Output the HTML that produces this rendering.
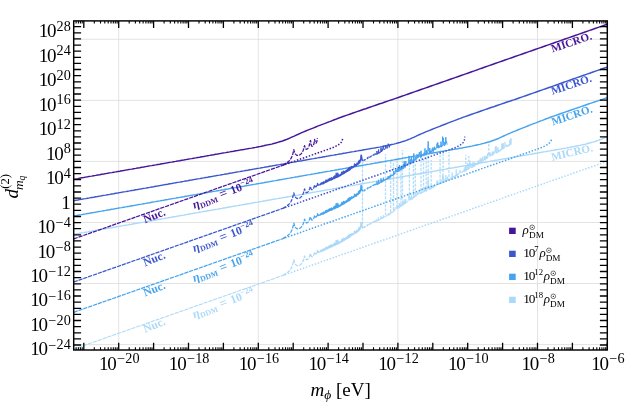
<!DOCTYPE html>
<html><head><meta charset="utf-8"><title>plot</title>
<style>html,body{margin:0;padding:0;background:#fff}body{width:625px;height:404px;position:relative;overflow:hidden;font-family:"Liberation Serif",serif}</style></head>
<body>
<svg width="625" height="404" viewBox="0 0 625 404" style="position:absolute;left:0;top:0;will-change:transform">
<rect width="625" height="404" fill="#fff"/>
<g stroke="#d9d9d9" stroke-width="0.75" fill="none">
<path d="M118.7 20.9 V350.0"/>
<path d="M258.3 20.9 V350.0"/>
<path d="M397.9 20.9 V350.0"/>
<path d="M537.5 20.9 V350.0"/>
<path d="M73.7 39.3 H607.3"/>
<path d="M73.7 100.4 H607.3"/>
<path d="M73.7 161.4 H607.3"/>
<path d="M73.7 222.5 H607.3"/>
<path d="M73.7 283.5 H607.3"/>
<path d="M73.7 344.6 H607.3"/>
</g>
<defs><clipPath id="cp"><rect x="73.7" y="20.9" width="533.6" height="329.1"/></clipPath></defs>
<g clip-path="url(#cp)" fill="none" stroke-linejoin="round">
<path d="M73.7 234.3 L75.7 234.0 L77.7 233.6 L79.7 233.3 L81.7 232.9 L83.7 232.6 L85.7 232.2 L87.7 231.9 L89.7 231.5 L91.7 231.2 L93.7 230.8 L95.7 230.5 L97.7 230.1 L99.7 229.8 L101.7 229.4 L103.7 229.1 L105.7 228.7 L107.7 228.4 L109.7 228.0 L111.7 227.7 L113.7 227.3 L115.7 227.0 L117.7 226.6 L119.7 226.3 L121.7 225.9 L123.7 225.6 L125.7 225.2 L127.7 224.9 L129.7 224.5 L131.7 224.2 L133.7 223.8 L135.7 223.5 L137.7 223.1 L139.7 222.8 L141.7 222.4 L143.7 222.1 L145.7 221.7 L147.7 221.4 L149.7 221.0 L151.7 220.7 L153.7 220.3 L155.7 220.0 L157.7 219.6 L159.7 219.3 L161.7 218.9 L163.7 218.6 L165.7 218.2 L167.7 217.9 L169.7 217.5 L171.7 217.2 L173.7 216.8 L175.7 216.5 L177.7 216.1 L179.7 215.8 L181.7 215.4 L183.7 215.1 L185.7 214.7 L187.7 214.4 L189.7 214.0 L191.7 213.6 L193.7 213.3 L195.7 212.9 L197.7 212.6 L199.7 212.2 L201.7 211.9 L203.7 211.5 L205.7 211.2 L207.7 210.8 L209.7 210.5 L211.7 210.1 L213.7 209.8 L215.7 209.4 L217.7 209.1 L219.7 208.7 L221.7 208.4 L223.7 208.0 L225.7 207.7 L227.7 207.3 L229.7 207.0 L231.7 206.6 L233.7 206.3 L235.7 205.9 L237.7 205.6 L239.7 205.2 L241.7 204.9 L243.7 204.5 L245.7 204.2 L247.7 203.8 L249.7 203.5 L251.7 203.1 L253.7 202.8 L255.7 202.4 L257.7 202.1 L259.7 201.7 L261.7 201.4 L263.7 201.0 L265.7 200.7 L267.7 200.3 L269.7 200.0 L271.7 199.6 L273.7 199.3 L275.7 198.9 L277.7 198.6 L279.7 198.2 L281.7 197.9 L283.7 197.5 L285.7 197.2 L287.7 196.8 L289.7 196.5 L291.7 196.1 L293.7 195.8 L295.7 195.4 L297.7 195.1 L299.7 194.7 L301.7 194.4 L303.7 194.0 L305.7 193.7 L307.7 193.3 L309.7 193.0 L311.7 192.6 L313.7 192.2 L315.7 191.9 L317.7 191.5 L319.7 191.2 L321.7 190.8 L323.7 190.5 L325.7 190.1 L327.7 189.8 L329.7 189.4 L331.7 189.1 L333.7 188.7 L335.7 188.4 L337.7 188.0 L339.7 187.7 L341.7 187.3 L343.7 187.0 L345.7 186.6 L347.7 186.3 L349.7 185.9 L351.7 185.6 L353.7 185.2 L355.7 184.9 L357.7 184.5 L359.7 184.2 L361.7 183.8 L363.7 183.5 L365.7 183.1 L367.7 182.8 L369.7 182.4 L371.7 182.1 L373.7 181.7 L375.7 181.4 L377.7 181.0 L379.7 180.7 L381.7 180.3 L383.7 180.0 L385.7 179.6 L387.7 179.3 L389.7 178.9 L391.7 178.6 L393.7 178.2 L395.7 177.9 L397.7 177.5 L399.7 177.2 L401.7 176.8 L403.7 176.5 L405.7 176.1 L407.7 175.8 L409.7 175.4 L411.7 175.1 L413.7 174.7 L415.7 174.4 L417.7 174.0 L419.7 173.7 L421.7 173.3 L423.7 173.0 L425.7 172.6 L427.7 172.3 L429.7 171.9 L431.7 171.6 L433.7 171.2 L435.7 170.9 L437.7 170.5 L439.7 170.1 L441.7 169.8 L443.7 169.4 L445.7 169.1 L447.7 168.7 L449.7 168.4 L451.7 168.0 L453.7 167.7 L455.7 167.3 L457.7 167.0 L459.7 166.6 L461.7 166.3 L463.7 165.9 L465.7 165.6 L467.7 165.2 L469.7 164.9 L471.7 164.5 L473.7 164.2 L475.7 163.8 L477.7 163.5 L479.7 163.1 L481.7 162.8 L483.7 162.4 L485.7 162.1 L487.7 161.7 L489.7 161.4 L491.7 161.0 L493.7 160.7 L495.7 160.3 L497.7 160.0 L499.7 159.6 L501.7 159.3 L503.7 158.9 L505.7 158.6 L507.7 158.2 L509.7 157.9 L511.7 157.5 L513.7 157.2 L515.7 156.8 L517.7 156.5 L519.7 156.1 L521.7 155.8 L523.7 155.4 L525.7 155.1 L527.7 154.7 L529.7 154.4 L531.7 154.0 L533.7 153.7 L535.7 153.3 L537.7 153.0 L539.7 152.6 L541.7 152.3 L543.7 151.9 L545.7 151.6 L547.7 151.2 L549.7 150.9 L551.7 150.5 L553.7 150.2 L555.7 149.8 L557.7 149.5 L559.7 149.1 L561.7 148.8 L563.7 148.4 L565.7 148.1 L567.7 147.7 L569.7 147.4 L571.7 147.0 L573.7 146.6 L575.7 146.2 L577.7 145.8 L579.7 145.4 L581.7 144.9 L583.7 144.5 L585.7 144.1 L587.7 143.5 L589.7 143.0 L591.7 142.4 L593.7 141.9 L595.7 141.3 L597.7 140.6 L599.7 139.8 L601.7 139.1 L603.7 138.2 L605.7 137.2 L607.7 136.3" stroke="#abd9f9" stroke-width="1.45"/>
<path d="M73.7 349.1 L285.0 274.7" stroke="#abd9f9" stroke-width="1.05" stroke-dasharray="4.2 0.9"/>
<path d="M285.0 274.7 L608.3 160.9" stroke="#abd9f9" stroke-width="1.5" stroke-dasharray="1.5 1.65"/>
<path d="M362.5 228.4 V156.0" stroke="#abd9f9" stroke-width="1.3" stroke-dasharray="2.8 1.2" opacity="0.9"/>
<path d="M385.5 215.2 V154.0" stroke="#abd9f9" stroke-width="1.3" stroke-dasharray="2.8 1.2" opacity="0.9"/>
<path d="M390.7 212.0 V160.0" stroke="#abd9f9" stroke-width="1.3" stroke-dasharray="2.8 1.2" opacity="0.9"/>
<path d="M393.5 209.9 V162.0" stroke="#abd9f9" stroke-width="1.3" stroke-dasharray="2.8 1.2" opacity="0.9"/>
<path d="M397.0 207.3 V158.0" stroke="#abd9f9" stroke-width="1.3" stroke-dasharray="2.8 1.2" opacity="0.9"/>
<path d="M401.0 204.4 V165.0" stroke="#abd9f9" stroke-width="1.3" stroke-dasharray="2.8 1.2" opacity="0.9"/>
<path d="M402.5 203.3 V150.0" stroke="#abd9f9" stroke-width="1.3" stroke-dasharray="2.8 1.2" opacity="0.9"/>
<path d="M409.4 198.5 V160.0" stroke="#abd9f9" stroke-width="1.3" stroke-dasharray="2.8 1.2" opacity="0.9"/>
<path d="M413.4 195.8 V156.0" stroke="#abd9f9" stroke-width="1.3" stroke-dasharray="2.8 1.2" opacity="0.9"/>
<path d="M415.3 194.5 V163.0" stroke="#abd9f9" stroke-width="1.3" stroke-dasharray="2.8 1.2" opacity="0.9"/>
<path d="M421.0 190.7 V152.0" stroke="#abd9f9" stroke-width="1.3" stroke-dasharray="2.8 1.2" opacity="0.9"/>
<path d="M423.5 189.5 V158.0" stroke="#abd9f9" stroke-width="1.3" stroke-dasharray="2.8 1.2" opacity="0.9"/>
<path d="M426.2 188.2 V155.0" stroke="#abd9f9" stroke-width="1.3" stroke-dasharray="2.8 1.2" opacity="0.9"/>
<path d="M428.2 187.3 V150.0" stroke="#abd9f9" stroke-width="1.3" stroke-dasharray="2.8 1.2" opacity="0.9"/>
<path d="M431.2 185.8 V160.0" stroke="#abd9f9" stroke-width="1.3" stroke-dasharray="2.8 1.2" opacity="0.9"/>
<path d="M440.1 181.5 V149.0" stroke="#abd9f9" stroke-width="1.3" stroke-dasharray="2.8 1.2" opacity="0.9"/>
<path d="M443.1 180.1 V150.0" stroke="#abd9f9" stroke-width="1.3" stroke-dasharray="2.8 1.2" opacity="0.9"/>
<path d="M449.0 177.1 V152.0" stroke="#abd9f9" stroke-width="1.3" stroke-dasharray="2.8 1.2" opacity="0.9"/>
<path d="M465.8 168.0 V155.0" stroke="#abd9f9" stroke-width="1.3" stroke-dasharray="2.8 1.2" opacity="0.9"/>
<path d="M468.8 166.3 V156.0" stroke="#abd9f9" stroke-width="1.3" stroke-dasharray="2.8 1.2" opacity="0.9"/>
<path d="M488.8 154.8 V144.0" stroke="#abd9f9" stroke-width="1.3" stroke-dasharray="2.8 1.2" opacity="0.9"/>
<path d="M283.0 275.4 L283.4 275.2 L283.8 274.9 L284.2 274.7 L284.6 274.4 L285.0 274.2 L285.4 273.9 L285.8 273.7 L286.2 273.4 L286.6 273.1 L287.0 272.9 L287.4 272.6 L287.8 272.2 L288.2 271.9 L288.6 271.6 L289.0 271.2 L289.4 270.8 L289.8 270.3 L290.2 269.8 L290.6 269.2 L291.0 268.6 L291.4 267.8 L291.8 267.0 L292.2 266.0 L292.6 264.8 L293.0 263.4 L293.4 261.8 L293.8 259.9 L294.2 261.3 L294.6 262.5 L295.0 263.4 L295.4 264.1 L295.8 264.6 L296.2 265.0 L296.6 265.3 L297.0 265.5 L297.4 265.6 L297.8 265.6 L298.2 265.6 L298.6 265.5 L299.0 265.4 L299.4 265.3 L299.8 265.1 L300.2 264.8 L300.6 264.5 L301.0 264.1 L301.4 263.7 L301.8 263.2 L302.2 262.6 L302.6 261.9 L303.0 261.1 L303.4 260.0 L303.8 258.7 L304.2 257.0 L304.6 256.0 L305.0 257.6 L305.4 258.7 L305.8 259.3 L306.2 259.6 L306.6 259.7 L307.0 259.6 L307.4 259.4 L307.8 259.1 L308.2 258.7 L308.6 258.1 L309.0 257.4 L309.4 256.5 L309.8 255.4 L310.2 254.1 L310.6 253.6 L311.0 255.6 L311.4 256.5 L311.8 256.8 L312.2 256.8 L312.6 256.6 L313.0 256.3 L313.4 255.7 L313.8 255.0 L314.2 253.9 L314.6 252.1 L315.0 252.9 L315.4 253.7 L315.8 253.9 L316.2 253.7 L316.6 253.2 L317.0 252.2 L317.4 250.5 L317.8 251.9 L318.2 252.4 L318.6 251.5 L319.0 252.6" stroke="#abd9f9" stroke-width="1.3" stroke-dasharray="3.6 1.2"/>
<path d="M319.4 251.5 L319.8 252.1 L320.2 251.2 L320.6 251.6 L321.0 250.3 L321.4 251.2 L321.8 249.9 L322.2 250.9 L322.6 249.8 L323.0 250.9 L323.4 248.9 L323.8 250.6 L324.2 249.3 L324.6 249.9 L325.0 248.8 L325.4 249.5 L325.8 247.4 L326.2 249.3 L326.6 247.3 L327.0 248.9 L327.4 247.8 L327.8 248.3 L328.2 246.4 L328.6 248.0 L329.0 246.2 L329.4 247.6 L329.8 245.5 L330.2 247.2 L330.6 245.5 L331.0 247.2 L331.4 244.8 L331.8 246.9 L332.2 245.4 L332.6 246.4 L333.0 245.0 L333.4 245.7 L333.8 243.8 L334.2 245.6 L334.6 243.1 L335.0 245.3 L335.4 243.1 L335.8 244.8 L336.2 240.3 L336.6 244.4 L337.0 242.3 L337.4 244.2 L337.8 240.2 L338.2 243.9 L338.6 242.1 L339.0 243.4 L339.4 242.2 L339.8 242.8 L340.2 241.7 L340.6 242.6 L341.0 241.1 L341.4 241.9 L341.8 239.3 L342.2 241.5 L342.6 239.4 L343.0 241.2 L343.4 238.3 L343.8 240.5 L344.2 238.7 L344.6 240.3 L345.0 238.6 L345.4 239.4 L345.8 237.9 L346.2 239.1 L346.6 237.4 L347.0 238.5 L347.4 236.7 L347.8 238.3 L348.2 235.5 L348.6 237.6 L349.0 235.1 L349.4 237.3 L349.8 234.4 L350.2 236.7 L350.6 234.6 L351.0 235.8 L351.4 233.6 L351.8 235.2 L352.2 233.9 L352.6 234.9 L353.0 233.7 L353.4 234.3 L353.8 233.1 L354.2 233.7 L354.6 231.0 L355.0 233.2 L355.4 231.7 L355.8 232.9 L356.2 231.5 L356.6 232.8 L357.0 230.2 L357.4 231.6 L357.8 230.4 L358.2 231.2 L358.6 228.4 L359.0 230.5 L359.4 227.5 L359.8 229.7 L360.2 227.1 L360.6 227.9 L361.0 222.2 L361.4 222.6 L361.8 225.7 L362.2 227.3 L362.6 227.5 L363.0 227.9" stroke="#abd9f9" stroke-width="1.35"/>
<path d="M363.4 227.6 L363.8 227.7 L364.2 226.9 L364.6 227.3 L365.0 226.6 L365.4 226.8 L365.8 226.2 L366.2 226.3 L366.6 226.0 L367.0 225.9 L367.4 224.9 L367.8 225.5 L368.2 224.2 L368.6 225.1 L369.0 224.5 L369.4 224.5 L369.8 224.1 L370.2 224.1 L370.6 223.4 L371.0 223.7 L371.4 223.0 L371.8 223.2 L372.2 222.5 L372.6 222.8 L373.0 222.1 L373.4 222.3 L373.8 221.6 L374.2 221.9 L374.6 221.1 L375.0 221.4 L375.4 220.4 L375.8 221.9" stroke="#abd9f9" stroke-width="1.2" stroke-dasharray="3.5 1.6"/>
<path d="M376.2 221.4 L376.6 221.5 L377.0 218.9 L377.4 221.4 L377.8 220.5 L378.2 221.0 L378.6 217.5 L379.0 220.4 L379.4 219.3 L379.8 220.0 L380.2 219.2 L380.6 219.2 L381.0 216.1 L381.4 219.1 L381.8 217.5 L382.2 218.9 L382.6 217.3 L383.0 218.4 L383.4 215.3 L383.8 217.6 L384.2 216.8 L384.6 217.2 L385.0 216.3 L385.4 216.9 L385.8 215.8 L386.2 216.4 L386.6 215.6 L387.0 216.2 L387.4 214.7 L387.8 215.5 L388.2 213.5 L388.6 215.3 L389.0 213.6 L389.4 214.9 L389.8 212.9 L390.2 214.2 L390.6 212.2 L391.0 213.3 L391.4 211.9 L391.8 212.8 L392.2 212.1 L392.6 212.7 L393.0 211.4 L393.4 211.8 L393.8 208.8 L394.2 211.3 L394.6 209.8 L395.0 210.4 L395.4 207.6 L395.8 207.9 L396.2 206.7 L396.6 208.7 L397.0 208.0 L397.4 208.7 L397.8 205.4 L398.2 208.4 L398.6 206.1 L399.0 208.1 L399.4 203.2 L399.8 207.3 L400.2 204.6 L400.6 206.8 L401.0 204.6 L401.4 206.4 L401.8 204.3 L402.2 205.7 L402.6 203.6 L403.0 205.5 L403.4 201.9 L403.8 205.0 L404.2 199.4 L404.6 203.9 L405.0 201.6 L405.4 204.0 L405.8 199.1 L406.2 202.7 L406.6 201.9 L407.0 202.4 L407.4 201.3 L407.8 201.6 L408.2 200.4 L408.6 200.3 L409.0 193.8 L409.4 200.0 L409.8 199.2 L410.2 200.4 L410.6 197.0 L411.0 199.5 L411.4 194.8 L411.8 199.8 L412.2 197.9 L412.6 199.2 L413.0 196.8 L413.4 198.2 L413.8 192.0 L414.2 198.0 L414.6 196.4 L415.0 197.1 L415.4 194.6 L415.8 196.5 L416.2 195.3 L416.6 195.9 L417.0 192.1 L417.4 195.0 L417.8 192.5 L418.2 194.5 L418.6 192.4 L419.0 190.4 L419.4 189.7 L419.8 193.5 L420.2 192.6 L420.6 194.0 L421.0 188.9 L421.4 193.7 L421.8 192.0 L422.2 192.6 L422.6 191.7 L423.0 192.8 L423.4 190.9 L423.8 191.7 L424.2 189.9 L424.6 192.2 L425.0 186.7 L425.4 191.1 L425.8 190.1 L426.2 191.5 L426.6 187.8 L427.0 190.6 L427.4 188.5 L427.8 187.3 L428.2 179.3 L428.6 187.3 L429.0 187.8 L429.4 189.7 L429.8 185.8 L430.2 189.5 L430.6 187.9 L431.0 189.2 L431.4 187.6 L431.8 188.9 L432.2 186.0 L432.6 187.9 L433.0 185.0 L433.4 188.2 L433.8 186.0 L434.2 186.9 L434.6 184.3 L435.0 186.6 L435.4 185.5 L435.8 186.0 L436.2 184.8 L436.6 184.5 L437.0 180.8 L437.4 184.2 L437.8 180.5 L438.2 185.0 L438.6 182.5 L439.0 184.6 L439.4 183.0 L439.8 184.1 L440.2 183.0 L440.6 183.7 L441.0 179.7 L441.4 183.8 L441.8 182.2 L442.2 182.9 L442.6 175.4 L443.0 178.6 L443.4 176.2 L443.8 182.0 L444.2 179.7 L444.6 182.5 L445.0 179.7 L445.4 180.9 L445.8 175.0 L446.2 179.3 L446.6 178.6 L447.0 181.1 L447.4 176.7 L447.8 180.8 L448.2 178.4 L448.6 180.1 L449.0 179.0 L449.4 179.4 L449.8 178.5 L450.2 179.7 L450.6 177.7 L451.0 178.6 L451.4 177.6 L451.8 178.9 L452.2 172.6 L452.6 178.3 L453.0 176.3 L453.4 177.4 L453.8 175.9 L454.2 177.2 L454.6 175.8 L455.0 176.7 L455.4 175.1 L455.8 176.9 L456.2 169.3 L456.6 176.0 L457.0 174.3 L457.4 176.0 L457.8 173.6 L458.2 174.8 L458.6 173.6 L459.0 174.1 L459.4 171.1 L459.8 171.7 L460.2 170.2 L460.6 172.8 L461.0 172.1 L461.4 172.9 L461.8 171.9 L462.2 172.7 L462.6 171.6 L463.0 171.9 L463.4 170.6 L463.8 171.7 L464.2 168.6 L464.6 171.6 L465.0 166.8 L465.4 171.3 L465.8 166.7 L466.2 171.1 L466.6 168.5 L467.0 170.0 L467.4 163.0 L467.8 169.4 L468.2 165.3 L468.6 169.4 L469.0 167.8 L469.4 168.5 L469.8 160.7 L470.2 166.5 L470.6 163.1 L471.0 168.1 L471.4 166.6 L471.8 167.6 L472.2 164.8 L472.6 167.5 L473.0 161.9 L473.4 167.1 L473.8 163.4 L474.2 166.7 L474.6 162.2 L475.0 166.1 L475.4 164.3 L475.8 164.9 L476.2 164.1 L476.6 164.8 L477.0 163.7 L477.4 164.9 L477.8 161.3 L478.2 164.2 L478.6 160.4 L479.0 163.8 L479.4 160.8 L479.8 162.5 L480.2 157.9 L480.6 162.9 L481.0 159.8 L481.4 162.2 L481.8 158.2 L482.2 161.2 L482.6 157.0 L483.0 160.9 L483.4 159.9 L483.8 160.4 L484.2 156.1 L484.6 159.9 L485.0 155.6 L485.4 160.3 L485.8 156.9 L486.2 159.1 L486.6 156.5 L487.0 158.9 L487.4 153.7 L487.8 158.0 L488.2 153.4 L488.6 154.3 L489.0 153.4 L489.4 155.9 L489.8 152.3 L490.2 156.5 L490.6 153.5 L491.0 155.8 L491.4 155.1 L491.8 155.6 L492.2 151.8 L492.6 155.6 L493.0 151.3 L493.4 154.6 L493.8 151.9 L494.2 154.0 L494.6 150.7 L495.0 150.5 L495.4 146.7 L495.8 152.8 L496.2 146.2 L496.6 153.5 L497.0 151.7 L497.4 152.5 L497.8 147.1 L498.2 152.6 L498.6 149.5 L499.0 151.3 L499.4 150.0 L499.8 151.6 L500.2 149.5 L500.6 150.7 L501.0 149.2 L501.4 150.2 L501.8 143.3 L502.2 149.3 L502.6 144.3 L503.0 149.2 L503.4 143.1 L503.8 148.8 L504.2 146.7 L504.6 147.5 L505.0 142.1 L505.4 146.0 L505.8 146.1 L506.2 147.2 L506.6 144.8 L507.0 146.7 L507.4 145.5 L507.8 146.3 L508.2 144.6 L508.6 146.4 L509.0 144.7 L509.4 145.8 L509.8 139.9 L510.2 144.6 L510.6 138.5 L511.0 144.8 L511.4 138.4" stroke="#abd9f9" stroke-width="0.75"/>
<path d="M73.7 216.0 L75.7 215.6 L77.7 215.3 L79.7 214.9 L81.7 214.6 L83.7 214.2 L85.7 213.9 L87.7 213.5 L89.7 213.2 L91.7 212.8 L93.7 212.5 L95.7 212.1 L97.7 211.8 L99.7 211.4 L101.7 211.1 L103.7 210.7 L105.7 210.4 L107.7 210.0 L109.7 209.7 L111.7 209.3 L113.7 209.0 L115.7 208.6 L117.7 208.3 L119.7 207.9 L121.7 207.6 L123.7 207.2 L125.7 206.9 L127.7 206.5 L129.7 206.2 L131.7 205.8 L133.7 205.5 L135.7 205.1 L137.7 204.8 L139.7 204.4 L141.7 204.1 L143.7 203.7 L145.7 203.4 L147.7 203.0 L149.7 202.7 L151.7 202.3 L153.7 201.9 L155.7 201.6 L157.7 201.2 L159.7 200.9 L161.7 200.5 L163.7 200.2 L165.7 199.8 L167.7 199.5 L169.7 199.1 L171.7 198.8 L173.7 198.4 L175.7 198.1 L177.7 197.7 L179.7 197.4 L181.7 197.0 L183.7 196.7 L185.7 196.3 L187.7 196.0 L189.7 195.6 L191.7 195.3 L193.7 194.9 L195.7 194.6 L197.7 194.2 L199.7 193.9 L201.7 193.5 L203.7 193.2 L205.7 192.8 L207.7 192.5 L209.7 192.1 L211.7 191.8 L213.7 191.4 L215.7 191.1 L217.7 190.7 L219.7 190.4 L221.7 190.0 L223.7 189.7 L225.7 189.3 L227.7 189.0 L229.7 188.6 L231.7 188.3 L233.7 187.9 L235.7 187.6 L237.7 187.2 L239.7 186.9 L241.7 186.5 L243.7 186.2 L245.7 185.8 L247.7 185.5 L249.7 185.1 L251.7 184.8 L253.7 184.4 L255.7 184.1 L257.7 183.7 L259.7 183.4 L261.7 183.0 L263.7 182.7 L265.7 182.3 L267.7 182.0 L269.7 181.6 L271.7 181.3 L273.7 180.9 L275.7 180.6 L277.7 180.2 L279.7 179.8 L281.7 179.5 L283.7 179.1 L285.7 178.8 L287.7 178.4 L289.7 178.1 L291.7 177.7 L293.7 177.4 L295.7 177.0 L297.7 176.7 L299.7 176.3 L301.7 176.0 L303.7 175.6 L305.7 175.3 L307.7 174.9 L309.7 174.6 L311.7 174.2 L313.7 173.9 L315.7 173.5 L317.7 173.2 L319.7 172.8 L321.7 172.5 L323.7 172.1 L325.7 171.8 L327.7 171.4 L329.7 171.1 L331.7 170.7 L333.7 170.4 L335.7 170.0 L337.7 169.7 L339.7 169.3 L341.7 169.0 L343.7 168.6 L345.7 168.3 L347.7 167.9 L349.7 167.6 L351.7 167.2 L353.7 166.9 L355.7 166.5 L357.7 166.2 L359.7 165.8 L361.7 165.5 L363.7 165.1 L365.7 164.8 L367.7 164.4 L369.7 164.1 L371.7 163.7 L373.7 163.4 L375.7 163.0 L377.7 162.7 L379.7 162.3 L381.7 162.0 L383.7 161.6 L385.7 161.3 L387.7 160.9 L389.7 160.6 L391.7 160.2 L393.7 159.9 L395.7 159.5 L397.7 159.2 L399.7 158.8 L401.7 158.5 L403.7 158.1 L405.7 157.7 L407.7 157.4 L409.7 157.0 L411.7 156.7 L413.7 156.3 L415.7 156.0 L417.7 155.6 L419.7 155.3 L421.7 154.9 L423.7 154.6 L425.7 154.2 L427.7 153.9 L429.7 153.5 L431.7 153.2 L433.7 152.8 L435.7 152.5 L437.7 152.1 L439.7 151.8 L441.7 151.4 L443.7 151.1 L445.7 150.7 L447.7 150.4 L449.7 150.0 L451.7 149.7 L453.7 149.4 L455.7 149.0 L457.7 148.7 L459.7 148.3 L461.7 148.0 L463.7 147.6 L465.7 147.3 L467.7 146.9 L469.7 146.5 L471.7 146.1 L473.7 145.6 L475.7 145.2 L477.7 144.8 L479.7 144.4 L481.7 143.9 L483.7 143.4 L485.7 142.8 L487.7 142.2 L489.7 141.7 L491.7 141.0 L493.7 140.3 L495.7 139.5 L497.7 138.8 L499.7 137.8 L501.7 136.9 L503.7 136.0 L505.7 135.1 L507.7 134.2 L509.7 133.3 L511.7 132.4 L513.7 131.6 L515.7 130.8 L517.7 130.0 L519.7 129.2 L521.7 128.4 L523.7 127.6 L525.7 126.8 L527.7 126.0 L529.7 125.2 L531.7 124.4 L533.7 123.6 L535.7 122.9 L537.7 122.1 L539.7 121.3 L541.7 120.6 L543.7 119.8 L545.7 119.0 L547.7 118.3 L549.7 117.5 L551.7 116.8 L553.7 116.1 L555.7 115.4 L557.7 114.7 L559.7 114.0 L561.7 113.3 L563.7 112.6 L565.7 111.9 L567.7 111.2 L569.7 110.5 L571.7 109.8 L573.7 109.1 L575.7 108.4 L577.7 107.8 L579.7 107.1 L581.7 106.4 L583.7 105.7 L585.7 105.0 L587.7 104.3 L589.7 103.6 L591.7 102.9 L593.7 102.3 L595.7 101.6 L597.7 100.9 L599.7 100.3 L601.7 99.6 L603.7 98.9 L605.7 98.2 L607.7 97.5" stroke="#46a4ef" stroke-width="1.45"/>
<path d="M73.7 312.3 L285.0 237.9" stroke="#46a4ef" stroke-width="1.25" stroke-dasharray="4.2 0.9"/>
<path d="M285.0 237.9 L540.0 148.2 L542.0 147.4 L544.6 146.1 L547.3 144.6 L548.7 143.6 L549.8 142.7 L550.7 141.4 L551.3 140.1 L551.6 138.4" stroke="#46a4ef" stroke-width="1.5" stroke-dasharray="1.5 1.65"/>
<path d="M283.0 238.6 L283.4 238.4 L283.8 238.1 L284.2 237.9 L284.6 237.6 L285.0 237.4 L285.4 237.1 L285.8 236.9 L286.2 236.6 L286.6 236.3 L287.0 236.1 L287.4 235.8 L287.8 235.4 L288.2 235.1 L288.6 234.8 L289.0 234.4 L289.4 234.0 L289.8 233.5 L290.2 233.0 L290.6 232.4 L291.0 231.8 L291.4 231.0 L291.8 230.2 L292.2 229.2 L292.6 228.0 L293.0 226.6 L293.4 225.0 L293.8 223.1 L294.2 224.5 L294.6 225.7 L295.0 226.6 L295.4 227.3 L295.8 227.8 L296.2 228.2 L296.6 228.5 L297.0 228.7 L297.4 228.8 L297.8 228.8 L298.2 228.8 L298.6 228.7 L299.0 228.6 L299.4 228.5 L299.8 228.3 L300.2 228.0 L300.6 227.7 L301.0 227.3 L301.4 226.9 L301.8 226.4 L302.2 225.8 L302.6 225.1 L303.0 224.3 L303.4 223.2 L303.8 221.9 L304.2 220.2 L304.6 219.2 L305.0 220.8 L305.4 221.9 L305.8 222.5 L306.2 222.8 L306.6 222.9 L307.0 222.8 L307.4 222.6 L307.8 222.3 L308.2 221.9 L308.6 221.3 L309.0 220.6 L309.4 219.7 L309.8 218.6 L310.2 217.3 L310.6 216.8 L311.0 218.8 L311.4 219.7 L311.8 220.0 L312.2 220.0 L312.6 219.8 L313.0 219.5 L313.4 218.9 L313.8 218.2 L314.2 217.1 L314.6 215.3 L315.0 216.1 L315.4 216.9 L315.8 217.1 L316.2 216.9 L316.6 216.4 L317.0 215.4 L317.4 213.7 L317.8 215.1 L318.2 215.6 L318.6 214.7 L319.0 215.8" stroke="#46a4ef" stroke-width="1.3" stroke-dasharray="3.6 1.2"/>
<path d="M319.4 214.7 L319.8 215.3 L320.2 214.4 L320.6 214.8 L321.0 213.5 L321.4 214.4 L321.8 213.1 L322.2 214.1 L322.6 213.0 L323.0 214.1 L323.4 212.1 L323.8 213.8 L324.2 212.5 L324.6 213.1 L325.0 212.0 L325.4 212.7 L325.8 210.6 L326.2 212.5 L326.6 210.5 L327.0 212.1 L327.4 211.0 L327.8 211.5 L328.2 209.6 L328.6 211.2 L329.0 209.4 L329.4 210.8 L329.8 208.7 L330.2 210.4 L330.6 208.7 L331.0 210.4 L331.4 208.0 L331.8 210.1 L332.2 208.6 L332.6 209.6 L333.0 208.2 L333.4 208.9 L333.8 207.0 L334.2 208.8 L334.6 206.3 L335.0 208.5 L335.4 206.3 L335.8 208.0 L336.2 203.5 L336.6 207.6 L337.0 205.5 L337.4 207.4 L337.8 203.4 L338.2 207.1 L338.6 205.3 L339.0 206.6 L339.4 205.4 L339.8 206.0 L340.2 204.9 L340.6 205.8 L341.0 204.3 L341.4 205.1 L341.8 202.5 L342.2 204.7 L342.6 202.6 L343.0 204.4 L343.4 201.5 L343.8 203.7 L344.2 201.9 L344.6 203.5 L345.0 201.8 L345.4 202.6 L345.8 201.1 L346.2 202.3 L346.6 200.6 L347.0 201.7 L347.4 199.9 L347.8 201.5 L348.2 198.7 L348.6 200.8 L349.0 198.3 L349.4 200.5 L349.8 197.6 L350.2 199.9 L350.6 197.8 L351.0 199.0 L351.4 196.8 L351.8 198.4 L352.2 197.1 L352.6 198.1 L353.0 196.9 L353.4 197.5 L353.8 196.3 L354.2 196.9 L354.6 194.2 L355.0 196.4 L355.4 194.9 L355.8 196.1 L356.2 194.7 L356.6 196.0 L357.0 193.4 L357.4 194.8 L357.8 193.6 L358.2 194.4 L358.6 191.6 L359.0 193.7 L359.4 190.7 L359.8 192.9 L360.2 190.3 L360.6 191.1 L361.0 185.4 L361.4 185.8 L361.8 188.9 L362.2 190.5 L362.6 190.7 L363.0 191.1" stroke="#46a4ef" stroke-width="1.35"/>
<path d="M363.4 190.8 L363.8 190.9 L364.2 190.1 L364.6 190.5 L365.0 189.8 L365.4 190.0 L365.8 189.4 L366.2 189.5 L366.6 189.2 L367.0 189.1 L367.4 188.1 L367.8 188.7 L368.2 187.4 L368.6 188.3 L369.0 187.7 L369.4 187.7 L369.8 187.3 L370.2 187.3 L370.6 186.6 L371.0 186.9 L371.4 186.2 L371.8 186.4 L372.2 185.7 L372.6 186.0 L373.0 185.3 L373.4 185.5 L373.8 184.8 L374.2 185.1 L374.6 184.3 L375.0 184.6 L375.4 183.6 L375.8 185.1" stroke="#46a4ef" stroke-width="1.2" stroke-dasharray="3.5 1.6"/>
<path d="M376.2 184.5 L376.6 184.7 L377.0 181.3 L377.4 184.7 L377.8 183.6 L378.2 184.3 L378.6 179.8 L379.0 183.8 L379.4 182.4 L379.8 183.3 L380.2 182.3 L380.6 182.5 L381.0 178.3 L381.4 182.5 L381.8 180.4 L382.2 182.2 L382.6 180.2 L383.0 181.7 L383.4 177.7 L383.8 180.8 L384.2 179.8 L384.6 180.4 L385.0 179.4 L385.4 180.2 L385.8 178.9 L386.2 179.6 L386.6 178.6 L387.0 179.6 L387.4 177.7 L387.8 178.8 L388.2 176.2 L388.6 178.7 L389.0 176.5 L389.4 178.3 L389.8 175.7 L390.2 177.5 L390.6 175.0 L391.0 176.5 L391.4 174.8 L391.8 176.0 L392.2 175.2 L392.6 176.0 L393.0 174.4 L393.4 175.2 L393.8 171.2 L394.2 174.6 L394.6 172.7 L395.0 173.7 L395.4 170.3 L395.8 171.3 L396.2 169.8 L396.6 172.1 L397.0 171.0 L397.4 172.0 L397.8 167.7 L398.2 171.8 L398.6 168.7 L399.0 171.5 L399.4 165.1 L399.8 170.6 L400.2 167.1 L400.6 170.1 L401.0 167.2 L401.4 169.8 L401.8 167.0 L402.2 169.1 L402.6 166.3 L403.0 169.0 L403.4 164.2 L403.8 168.4 L404.2 161.1 L404.6 167.2 L405.0 164.1 L405.4 167.4 L405.8 161.1 L406.2 166.0 L406.6 164.9 L407.0 165.8 L407.4 164.4 L407.8 164.8 L408.2 163.4 L408.6 163.7 L409.0 155.9 L409.4 163.5 L409.8 162.2 L410.2 163.8 L410.6 159.3 L411.0 162.7 L411.4 156.5 L411.8 163.3 L412.2 160.9 L412.6 162.7 L413.0 159.6 L413.4 161.6 L413.8 153.4 L414.2 161.5 L414.6 159.4 L415.0 160.5 L415.4 157.2 L415.8 159.8 L416.2 158.3 L416.6 159.2 L417.0 154.2 L417.4 158.2 L417.8 155.0 L418.2 157.8 L418.6 155.4 L419.0 153.7 L419.4 152.0 L419.8 156.8 L420.2 155.6 L420.6 157.6 L421.0 150.8 L421.4 157.2 L421.8 155.0 L422.2 155.9 L422.6 154.7 L423.0 156.3 L423.4 153.8 L423.8 155.0 L424.2 152.6 L424.6 155.7 L425.0 148.4 L425.4 154.4 L425.8 153.1 L426.2 155.0 L426.6 150.2 L427.0 154.0 L427.4 151.5 L427.8 150.5 L428.2 141.3 L428.6 150.7 L429.0 150.8 L429.4 153.3 L429.8 148.0 L430.2 153.0 L430.6 150.9 L431.0 152.8 L431.4 150.6 L431.8 152.4 L432.2 148.6 L432.6 151.2 L433.0 147.4 L433.4 151.7 L433.8 148.9 L434.2 150.1 L434.6 146.8 L435.0 149.9 L435.4 148.5 L435.8 149.2 L436.2 147.8 L436.6 147.8 L437.0 143.6 L437.4 147.6 L437.8 142.4 L438.2 148.3 L438.6 145.1 L439.0 147.9 L439.4 145.8 L439.8 147.3 L440.2 145.9 L440.6 146.9 L441.0 141.6 L441.4 147.2 L441.8 145.1 L442.2 146.3 L442.6 136.6 L443.0 141.9 L443.4 137.9 L443.8 145.4 L444.2 142.2 L444.6 146.0 L445.0 142.4 L445.4 144.3 L445.8 137.1 L446.2 142.9 L446.6 141.4 L447.0 144.7" stroke="#46a4ef" stroke-width="1.00"/>
<path d="M73.7 200.7 L75.7 200.3 L77.7 200.0 L79.7 199.6 L81.7 199.3 L83.7 198.9 L85.7 198.6 L87.7 198.2 L89.7 197.9 L91.7 197.5 L93.7 197.2 L95.7 196.8 L97.7 196.5 L99.7 196.1 L101.7 195.8 L103.7 195.4 L105.7 195.1 L107.7 194.7 L109.7 194.4 L111.7 194.0 L113.7 193.7 L115.7 193.3 L117.7 193.0 L119.7 192.6 L121.7 192.3 L123.7 191.9 L125.7 191.6 L127.7 191.2 L129.7 190.9 L131.7 190.5 L133.7 190.2 L135.7 189.8 L137.7 189.5 L139.7 189.1 L141.7 188.8 L143.7 188.4 L145.7 188.1 L147.7 187.7 L149.7 187.4 L151.7 187.0 L153.7 186.7 L155.7 186.3 L157.7 186.0 L159.7 185.6 L161.7 185.3 L163.7 184.9 L165.7 184.5 L167.7 184.2 L169.7 183.8 L171.7 183.5 L173.7 183.1 L175.7 182.8 L177.7 182.4 L179.7 182.1 L181.7 181.7 L183.7 181.4 L185.7 181.0 L187.7 180.7 L189.7 180.3 L191.7 180.0 L193.7 179.6 L195.7 179.3 L197.7 178.9 L199.7 178.6 L201.7 178.2 L203.7 177.9 L205.7 177.5 L207.7 177.2 L209.7 176.8 L211.7 176.5 L213.7 176.1 L215.7 175.8 L217.7 175.4 L219.7 175.1 L221.7 174.7 L223.7 174.4 L225.7 174.0 L227.7 173.7 L229.7 173.3 L231.7 173.0 L233.7 172.6 L235.7 172.3 L237.7 171.9 L239.7 171.6 L241.7 171.2 L243.7 170.9 L245.7 170.5 L247.7 170.2 L249.7 169.8 L251.7 169.5 L253.7 169.1 L255.7 168.8 L257.7 168.4 L259.7 168.1 L261.7 167.7 L263.7 167.4 L265.7 167.0 L267.7 166.7 L269.7 166.3 L271.7 166.0 L273.7 165.6 L275.7 165.3 L277.7 164.9 L279.7 164.6 L281.7 164.2 L283.7 163.9 L285.7 163.5 L287.7 163.2 L289.7 162.8 L291.7 162.4 L293.7 162.1 L295.7 161.7 L297.7 161.4 L299.7 161.0 L301.7 160.7 L303.7 160.3 L305.7 160.0 L307.7 159.6 L309.7 159.3 L311.7 158.9 L313.7 158.6 L315.7 158.2 L317.7 157.9 L319.7 157.5 L321.7 157.2 L323.7 156.8 L325.7 156.5 L327.7 156.1 L329.7 155.8 L331.7 155.4 L333.7 155.1 L335.7 154.7 L337.7 154.4 L339.7 154.0 L341.7 153.7 L343.7 153.3 L345.7 153.0 L347.7 152.6 L349.7 152.3 L351.7 151.9 L353.7 151.6 L355.7 151.2 L357.7 150.9 L359.7 150.5 L361.7 150.2 L363.7 149.8 L365.7 149.5 L367.7 149.1 L369.7 148.8 L371.7 148.4 L373.7 148.1 L375.7 147.8 L377.7 147.4 L379.7 147.1 L381.7 146.7 L383.7 146.2 L385.7 145.8 L387.7 145.4 L389.7 145.0 L391.7 144.5 L393.7 144.1 L395.7 143.6 L397.7 143.0 L399.7 142.5 L401.7 141.9 L403.7 141.3 L405.7 140.6 L407.7 139.8 L409.7 139.1 L411.7 138.2 L413.7 137.3 L415.7 136.4 L417.7 135.4 L419.7 134.5 L421.7 133.7 L423.7 132.8 L425.7 131.9 L427.7 131.1 L429.7 130.3 L431.7 129.5 L433.7 128.7 L435.7 127.9 L437.7 127.1 L439.7 126.3 L441.7 125.5 L443.7 124.7 L445.7 124.0 L447.7 123.2 L449.7 122.4 L451.7 121.6 L453.7 120.9 L455.7 120.1 L457.7 119.3 L459.7 118.6 L461.7 117.8 L463.7 117.1 L465.7 116.4 L467.7 115.7 L469.7 115.0 L471.7 114.3 L473.7 113.6 L475.7 112.9 L477.7 112.2 L479.7 111.5 L481.7 110.8 L483.7 110.1 L485.7 109.4 L487.7 108.7 L489.7 108.0 L491.7 107.3 L493.7 106.7 L495.7 106.0 L497.7 105.3 L499.7 104.6 L501.7 103.9 L503.7 103.2 L505.7 102.5 L507.7 101.8 L509.7 101.2 L511.7 100.5 L513.7 99.9 L515.7 99.2 L517.7 98.5 L519.7 97.8 L521.7 97.1 L523.7 96.4 L525.7 95.7 L527.7 95.0 L529.7 94.3 L531.7 93.6 L533.7 92.9 L535.7 92.2 L537.7 91.5 L539.7 90.8 L541.7 90.1 L543.7 89.4 L545.7 88.7 L547.7 88.0 L549.7 87.3 L551.7 86.6 L553.7 85.9 L555.7 85.2 L557.7 84.5 L559.7 83.7 L561.7 83.0 L563.7 82.3 L565.7 81.6 L567.7 80.9 L569.7 80.2 L571.7 79.5 L573.7 78.8 L575.7 78.1 L577.7 77.4 L579.7 76.7 L581.7 76.0 L583.7 75.3 L585.7 74.6 L587.7 73.9 L589.7 73.2 L591.7 72.5 L593.7 71.8 L595.7 71.1 L597.7 70.4 L599.7 69.7 L601.7 69.0 L603.7 68.3 L605.7 67.6 L607.7 66.9" stroke="#3b57cf" stroke-width="1.45"/>
<path d="M73.7 282.0 L285.0 207.6" stroke="#3b57cf" stroke-width="1.25" stroke-dasharray="4.2 0.9"/>
<path d="M285.0 207.6 L453.0 148.5 L455.0 147.7 L457.6 146.5 L460.3 144.9 L461.7 143.9 L462.8 143.0 L463.7 141.7 L464.3 140.4 L464.6 138.7 L464.8 136.6" stroke="#3b57cf" stroke-width="1.5" stroke-dasharray="1.5 1.65"/>
<path d="M283.0 208.3 L283.4 208.1 L283.8 207.8 L284.2 207.6 L284.6 207.3 L285.0 207.1 L285.4 206.8 L285.8 206.6 L286.2 206.3 L286.6 206.0 L287.0 205.8 L287.4 205.5 L287.8 205.1 L288.2 204.8 L288.6 204.5 L289.0 204.1 L289.4 203.7 L289.8 203.2 L290.2 202.7 L290.6 202.1 L291.0 201.5 L291.4 200.7 L291.8 199.9 L292.2 198.9 L292.6 197.7 L293.0 196.3 L293.4 194.7 L293.8 192.8 L294.2 194.2 L294.6 195.4 L295.0 196.3 L295.4 197.0 L295.8 197.5 L296.2 197.9 L296.6 198.2 L297.0 198.4 L297.4 198.5 L297.8 198.5 L298.2 198.5 L298.6 198.4 L299.0 198.3 L299.4 198.2 L299.8 198.0 L300.2 197.7 L300.6 197.4 L301.0 197.0 L301.4 196.6 L301.8 196.1 L302.2 195.5 L302.6 194.8 L303.0 194.0 L303.4 192.9 L303.8 191.6 L304.2 189.9 L304.6 188.9 L305.0 190.5 L305.4 191.6 L305.8 192.2 L306.2 192.5 L306.6 192.6 L307.0 192.5 L307.4 192.3 L307.8 192.0 L308.2 191.6 L308.6 191.0 L309.0 190.3 L309.4 189.4 L309.8 188.3 L310.2 187.0 L310.6 186.5 L311.0 188.5 L311.4 189.4 L311.8 189.7 L312.2 189.7 L312.6 189.5 L313.0 189.2 L313.4 188.6 L313.8 187.9 L314.2 186.8 L314.6 185.0 L315.0 185.8 L315.4 186.6 L315.8 186.8 L316.2 186.6 L316.6 186.1 L317.0 185.1 L317.4 183.4 L317.8 184.8 L318.2 185.3 L318.6 184.4 L319.0 185.5" stroke="#3b57cf" stroke-width="1.3" stroke-dasharray="3.6 1.2"/>
<path d="M319.4 184.4 L319.8 185.0 L320.2 184.1 L320.6 184.5 L321.0 183.2 L321.4 184.1 L321.8 182.8 L322.2 183.8 L322.6 182.7 L323.0 183.8 L323.4 181.8 L323.8 183.5 L324.2 182.2 L324.6 182.8 L325.0 181.7 L325.4 182.4 L325.8 180.3 L326.2 182.2 L326.6 180.2 L327.0 181.8 L327.4 180.7 L327.8 181.2 L328.2 179.3 L328.6 180.9 L329.0 179.1 L329.4 180.5 L329.8 178.4 L330.2 180.1 L330.6 178.4 L331.0 180.1 L331.4 177.7 L331.8 179.8 L332.2 178.3 L332.6 179.3 L333.0 177.9 L333.4 178.6 L333.8 176.7 L334.2 178.5 L334.6 176.0 L335.0 178.2 L335.4 176.0 L335.8 177.7 L336.2 173.2 L336.6 177.3 L337.0 175.2 L337.4 177.1 L337.8 173.1 L338.2 176.8 L338.6 175.0 L339.0 176.3 L339.4 175.1 L339.8 175.7 L340.2 174.6 L340.6 175.5 L341.0 174.0 L341.4 174.8 L341.8 172.2 L342.2 174.4 L342.6 172.3 L343.0 174.1 L343.4 171.2 L343.8 173.4 L344.2 171.6 L344.6 173.2 L345.0 171.5 L345.4 172.3 L345.8 170.8 L346.2 172.0 L346.6 170.3 L347.0 171.4 L347.4 169.6 L347.8 171.2 L348.2 168.4 L348.6 170.5 L349.0 168.0 L349.4 170.2 L349.8 167.3 L350.2 169.6 L350.6 167.5 L351.0 168.7 L351.4 166.5 L351.8 168.1 L352.2 166.8 L352.6 167.8 L353.0 166.6 L353.4 167.2 L353.8 166.0 L354.2 166.6 L354.6 163.9 L355.0 166.1 L355.4 164.6 L355.8 165.8 L356.2 164.4 L356.6 165.7 L357.0 163.1 L357.4 164.5 L357.8 163.3 L358.2 164.1 L358.6 161.3 L359.0 163.4 L359.4 160.4 L359.8 162.6 L360.2 160.0 L360.6 160.8 L361.0 155.1 L361.4 155.5 L361.8 158.6 L362.2 160.2 L362.6 160.4 L363.0 160.8" stroke="#3b57cf" stroke-width="1.35"/>
<path d="M363.4 160.5 L363.8 160.6 L364.2 159.8 L364.6 160.2 L365.0 159.5 L365.4 159.7 L365.8 159.1 L366.2 159.2 L366.6 158.9 L367.0 158.8 L367.4 157.8 L367.8 158.4 L368.2 157.1 L368.6 158.0 L369.0 157.4 L369.4 157.4 L369.8 157.0 L370.2 157.0 L370.6 156.3 L371.0 156.6 L371.4 155.9 L371.8 156.1 L372.2 155.4 L372.6 155.7 L373.0 155.0 L373.4 155.2 L373.8 154.5 L374.2 154.8 L374.6 154.0 L375.0 154.3 L375.4 153.3 L375.8 154.8" stroke="#3b57cf" stroke-width="1.2" stroke-dasharray="3.5 1.6"/>
<path d="M376.2 154.2 L376.6 154.4 L377.0 151.0 L377.4 154.4 L377.8 153.3 L378.2 154.0 L378.6 149.5 L379.0 153.5 L379.4 152.1 L379.8 153.0 L380.2 152.0 L380.6 152.1 L381.0 147.9 L381.4 152.0 L381.8 149.7 L382.2 151.2 L382.6 148.4 L383.0 147.9 L383.4 145.8 L383.8 149.7 L384.2 149.1 L384.6 149.7 L385.0 148.4 L385.4 148.5 L385.8 145.5 L386.2 146.3 L386.6 146.9 L387.0 148.5 L387.4 146.7 L387.8 147.4 L388.2 143.7 L388.6 145.1 L389.0 144.7 L389.4 147.3 L389.8 145.1" stroke="#3b57cf" stroke-width="1.00"/>
<path d="M73.7 179.3 L75.7 178.9 L77.7 178.6 L79.7 178.2 L81.7 177.8 L83.7 177.5 L85.7 177.1 L87.7 176.8 L89.7 176.4 L91.7 176.1 L93.7 175.7 L95.7 175.4 L97.7 175.0 L99.7 174.7 L101.7 174.3 L103.7 174.0 L105.7 173.6 L107.7 173.3 L109.7 172.9 L111.7 172.6 L113.7 172.2 L115.7 171.9 L117.7 171.5 L119.7 171.2 L121.7 170.8 L123.7 170.5 L125.7 170.1 L127.7 169.8 L129.7 169.4 L131.7 169.1 L133.7 168.7 L135.7 168.4 L137.7 168.0 L139.7 167.7 L141.7 167.3 L143.7 167.0 L145.7 166.6 L147.7 166.3 L149.7 165.9 L151.7 165.6 L153.7 165.2 L155.7 164.9 L157.7 164.5 L159.7 164.2 L161.7 163.8 L163.7 163.5 L165.7 163.1 L167.7 162.8 L169.7 162.4 L171.7 162.1 L173.7 161.7 L175.7 161.4 L177.7 161.0 L179.7 160.7 L181.7 160.3 L183.7 160.0 L185.7 159.6 L187.7 159.3 L189.7 158.9 L191.7 158.6 L193.7 158.2 L195.7 157.9 L197.7 157.5 L199.7 157.2 L201.7 156.8 L203.7 156.5 L205.7 156.1 L207.7 155.7 L209.7 155.4 L211.7 155.0 L213.7 154.7 L215.7 154.3 L217.7 154.0 L219.7 153.6 L221.7 153.3 L223.7 152.9 L225.7 152.6 L227.7 152.2 L229.7 151.9 L231.7 151.5 L233.7 151.2 L235.7 150.8 L237.7 150.5 L239.7 150.1 L241.7 149.8 L243.7 149.5 L245.7 149.1 L247.7 148.8 L249.7 148.4 L251.7 148.1 L253.7 147.7 L255.7 147.4 L257.7 147.0 L259.7 146.6 L261.7 146.2 L263.7 145.8 L265.7 145.3 L267.7 144.9 L269.7 144.5 L271.7 144.1 L273.7 143.5 L275.7 143.0 L277.7 142.4 L279.7 141.8 L281.7 141.3 L283.7 140.5 L285.7 139.8 L287.7 139.0 L289.7 138.1 L291.7 137.2 L293.7 136.3 L295.7 135.3 L297.7 134.5 L299.7 133.6 L301.7 132.7 L303.7 131.8 L305.7 131.0 L307.7 130.2 L309.7 129.4 L311.7 128.6 L313.7 127.8 L315.7 127.0 L317.7 126.2 L319.7 125.4 L321.7 124.6 L323.7 123.9 L325.7 123.1 L327.7 122.3 L329.7 121.6 L331.7 120.8 L333.7 120.0 L335.7 119.3 L337.7 118.5 L339.7 117.7 L341.7 117.0 L343.7 116.3 L345.7 115.6 L347.7 114.9 L349.7 114.2 L351.7 113.5 L353.7 112.8 L355.7 112.1 L357.7 111.4 L359.7 110.7 L361.7 110.0 L363.7 109.3 L365.7 108.7 L367.7 108.0 L369.7 107.3 L371.7 106.6 L373.7 105.9 L375.7 105.2 L377.7 104.5 L379.7 103.8 L381.7 103.2 L383.7 102.5 L385.7 101.8 L387.7 101.1 L389.7 100.4 L391.7 99.8 L393.7 99.1 L395.7 98.4 L397.7 97.7 L399.7 97.0 L401.7 96.3 L403.7 95.6 L405.7 94.9 L407.7 94.2 L409.7 93.5 L411.7 92.8 L413.7 92.1 L415.7 91.4 L417.7 90.7 L419.7 90.0 L421.7 89.3 L423.7 88.6 L425.7 87.9 L427.7 87.2 L429.7 86.5 L431.7 85.8 L433.7 85.1 L435.7 84.4 L437.7 83.7 L439.7 83.0 L441.7 82.3 L443.7 81.6 L445.7 80.9 L447.7 80.2 L449.7 79.5 L451.7 78.8 L453.7 78.1 L455.7 77.4 L457.7 76.7 L459.7 76.0 L461.7 75.3 L463.7 74.6 L465.7 73.9 L467.7 73.2 L469.7 72.5 L471.7 71.8 L473.7 71.1 L475.7 70.4 L477.7 69.7 L479.7 68.9 L481.7 68.2 L483.7 67.5 L485.7 66.8 L487.7 66.1 L489.7 65.4 L491.7 64.7 L493.7 64.0 L495.7 63.3 L497.7 62.6 L499.7 61.9 L501.7 61.2 L503.7 60.5 L505.7 59.8 L507.7 59.1 L509.7 58.4 L511.7 57.7 L513.7 57.0 L515.7 56.3 L517.7 55.6 L519.7 54.9 L521.7 54.2 L523.7 53.5 L525.7 52.8 L527.7 52.1 L529.7 51.4 L531.7 50.7 L533.7 50.0 L535.7 49.3 L537.7 48.6 L539.7 47.9 L541.7 47.2 L543.7 46.5 L545.7 45.8 L547.7 45.1 L549.7 44.4 L551.7 43.7 L553.7 43.0 L555.7 42.3 L557.7 41.6 L559.7 40.9 L561.7 40.2 L563.7 39.5 L565.7 38.8 L567.7 38.1 L569.7 37.4 L571.7 36.7 L573.7 36.0 L575.7 35.3 L577.7 34.6 L579.7 33.9 L581.7 33.2 L583.7 32.5 L585.7 31.8 L587.7 31.1 L589.7 30.4 L591.7 29.7 L593.7 29.0 L595.7 28.3 L597.7 27.6 L599.7 26.9 L601.7 26.2 L603.7 25.5 L605.7 24.8 L607.7 24.1" stroke="#45169a" stroke-width="1.45"/>
<path d="M73.7 238.9 L285.0 164.5" stroke="#45169a" stroke-width="1.25" stroke-dasharray="4.2 0.9"/>
<path d="M285.0 164.5 L331.0 148.3 L333.0 147.5 L335.6 146.3 L338.3 144.8 L339.7 143.8 L340.8 142.9 L341.7 141.6 L342.3 140.3 L342.6 138.6" stroke="#45169a" stroke-width="1.5" stroke-dasharray="1.5 1.65"/>
<path d="M283.0 165.2 L283.4 165.0 L283.8 164.7 L284.2 164.5 L284.6 164.2 L285.0 164.0 L285.4 163.7 L285.8 163.5 L286.2 163.2 L286.6 162.9 L287.0 162.7 L287.4 162.4 L287.8 162.0 L288.2 161.7 L288.6 161.4 L289.0 161.0 L289.4 160.6 L289.8 160.1 L290.2 159.6 L290.6 159.0 L291.0 158.4 L291.4 157.6 L291.8 156.8 L292.2 155.8 L292.6 154.6 L293.0 153.2 L293.4 151.6 L293.8 149.7 L294.2 151.1 L294.6 152.3 L295.0 153.2 L295.4 153.9 L295.8 154.4 L296.2 154.8 L296.6 155.1 L297.0 155.3 L297.4 155.4 L297.8 155.4 L298.2 155.4 L298.6 155.3 L299.0 155.2 L299.4 155.1 L299.8 154.9 L300.2 154.6 L300.6 154.3 L301.0 153.9 L301.4 153.5 L301.8 153.0 L302.2 152.4 L302.6 151.7 L303.0 150.8 L303.4 149.8 L303.8 148.4 L304.2 146.7 L304.6 145.7 L305.0 147.3 L305.4 148.4 L305.8 149.0 L306.2 149.2 L306.6 149.3 L307.0 149.1 L307.4 148.8 L307.8 148.4 L308.2 147.8 L308.6 147.0 L309.0 146.0 L309.4 144.8 L309.8 143.2 L310.2 141.1 L310.6 140.5 L311.0 143.9 L311.4 145.5 L311.8 146.2 L312.2 146.3 L312.6 146.2 L313.0 145.8 L313.4 145.1 L313.8 144.0 L314.2 142.3 L314.6 139.5 L315.0 140.9 L315.4 142.5 L315.8 143.1 L316.2 143.0 L316.6 142.3 L317.0 140.8 L317.4 138.1" stroke="#45169a" stroke-width="1.3" stroke-dasharray="3.6 1.2"/>
</g>
<g font-family="Liberation Serif, serif" font-weight="bold" font-size="11.6px">
<text transform="translate(552.5 52.4) rotate(-18.5)" fill="#45169a" font-size="11.1px">MICRO.</text>
<text transform="translate(145.0 223.2) rotate(-21.5)" fill="#45169a">Nuc.</text>
<text transform="translate(194.3 208.7) rotate(-21)" fill="#45169a"><tspan font-style="italic" font-size="12px">η</tspan><tspan font-size="7.8px" dy="2.2">DDM</tspan><tspan dy="-1.8" dx="3.6" font-size="13.5px">=</tspan><tspan dx="3.9" dy="-0.4">10</tspan><tspan font-size="8.2px" dy="-4.3">−24</tspan></text>
<text transform="translate(552.4 94.7) rotate(-18.5)" fill="#3b57cf" font-size="11.1px">MICRO.</text>
<text transform="translate(145.0 266.4) rotate(-21.5)" fill="#3b57cf">Nuc.</text>
<text transform="translate(194.3 251.9) rotate(-21)" fill="#3b57cf"><tspan font-style="italic" font-size="12px">η</tspan><tspan font-size="7.8px" dy="2.2">DDM</tspan><tspan dy="-1.8" dx="3.6" font-size="13.5px">=</tspan><tspan dx="3.9" dy="-0.4">10</tspan><tspan font-size="8.2px" dy="-4.3">−24</tspan></text>
<text transform="translate(553.0 125.4) rotate(-18.5)" fill="#46a4ef" font-size="11.1px">MICRO.</text>
<text transform="translate(145.0 296.6) rotate(-21.5)" fill="#46a4ef">Nuc.</text>
<text transform="translate(194.3 282.1) rotate(-21)" fill="#46a4ef"><tspan font-style="italic" font-size="12px">η</tspan><tspan font-size="7.8px" dy="2.2">DDM</tspan><tspan dy="-1.8" dx="3.6" font-size="13.5px">=</tspan><tspan dx="3.9" dy="-0.4">10</tspan><tspan font-size="8.2px" dy="-4.3">−24</tspan></text>
<text transform="translate(552.2 160.7) rotate(-13.0)" fill="#abd9f9" font-size="11.1px">MICRO.</text>
<text transform="translate(145.0 332.8) rotate(-21.5)" fill="#abd9f9">Nuc.</text>
<text transform="translate(194.3 318.3) rotate(-21)" fill="#abd9f9"><tspan font-style="italic" font-size="12px">η</tspan><tspan font-size="7.8px" dy="2.2">DDM</tspan><tspan dy="-1.8" dx="3.6" font-size="13.5px">=</tspan><tspan dx="3.9" dy="-0.4">10</tspan><tspan font-size="8.2px" dy="-4.3">−24</tspan></text>
</g>
<g stroke="#000" fill="none">
<rect x="73.7" y="20.9" width="533.6" height="329.1" stroke-width="1.45"/>
<path d="M83.8 350.0 v-7.2M83.8 20.9 v7.2M118.7 350.0 v-7.2M118.7 20.9 v7.2M153.6 350.0 v-7.2M153.6 20.9 v7.2M188.5 350.0 v-7.2M188.5 20.9 v7.2M223.4 350.0 v-7.2M223.4 20.9 v7.2M258.3 350.0 v-7.2M258.3 20.9 v7.2M293.2 350.0 v-7.2M293.2 20.9 v7.2M328.1 350.0 v-7.2M328.1 20.9 v7.2M363.0 350.0 v-7.2M363.0 20.9 v7.2M397.9 350.0 v-7.2M397.9 20.9 v7.2M432.8 350.0 v-7.2M432.8 20.9 v7.2M467.7 350.0 v-7.2M467.7 20.9 v7.2M502.6 350.0 v-7.2M502.6 20.9 v7.2M537.5 350.0 v-7.2M537.5 20.9 v7.2M572.4 350.0 v-7.2M572.4 20.9 v7.2M607.3 350.0 v-7.2M607.3 20.9 v7.2" stroke-width="1.3"/>
<path d="M76.1 350.0 v-2.7M76.1 20.9 v2.7M78.4 350.0 v-2.7M78.4 20.9 v2.7M80.4 350.0 v-2.7M80.4 20.9 v2.7M82.2 350.0 v-2.7M82.2 20.9 v2.7M94.3 350.0 v-2.7M94.3 20.9 v2.7M100.5 350.0 v-2.7M100.5 20.9 v2.7M104.8 350.0 v-2.7M104.8 20.9 v2.7M108.2 350.0 v-2.7M108.2 20.9 v2.7M111.0 350.0 v-2.7M111.0 20.9 v2.7M113.3 350.0 v-2.7M113.3 20.9 v2.7M115.3 350.0 v-2.7M115.3 20.9 v2.7M117.1 350.0 v-2.7M117.1 20.9 v2.7M129.2 350.0 v-2.7M129.2 20.9 v2.7M135.4 350.0 v-2.7M135.4 20.9 v2.7M139.7 350.0 v-2.7M139.7 20.9 v2.7M143.1 350.0 v-2.7M143.1 20.9 v2.7M145.9 350.0 v-2.7M145.9 20.9 v2.7M148.2 350.0 v-2.7M148.2 20.9 v2.7M150.2 350.0 v-2.7M150.2 20.9 v2.7M152.0 350.0 v-2.7M152.0 20.9 v2.7M164.1 350.0 v-2.7M164.1 20.9 v2.7M170.3 350.0 v-2.7M170.3 20.9 v2.7M174.6 350.0 v-2.7M174.6 20.9 v2.7M178.0 350.0 v-2.7M178.0 20.9 v2.7M180.8 350.0 v-2.7M180.8 20.9 v2.7M183.1 350.0 v-2.7M183.1 20.9 v2.7M185.1 350.0 v-2.7M185.1 20.9 v2.7M186.9 350.0 v-2.7M186.9 20.9 v2.7M199.0 350.0 v-2.7M199.0 20.9 v2.7M205.2 350.0 v-2.7M205.2 20.9 v2.7M209.5 350.0 v-2.7M209.5 20.9 v2.7M212.9 350.0 v-2.7M212.9 20.9 v2.7M215.7 350.0 v-2.7M215.7 20.9 v2.7M218.0 350.0 v-2.7M218.0 20.9 v2.7M220.0 350.0 v-2.7M220.0 20.9 v2.7M221.8 350.0 v-2.7M221.8 20.9 v2.7M233.9 350.0 v-2.7M233.9 20.9 v2.7M240.1 350.0 v-2.7M240.1 20.9 v2.7M244.4 350.0 v-2.7M244.4 20.9 v2.7M247.8 350.0 v-2.7M247.8 20.9 v2.7M250.6 350.0 v-2.7M250.6 20.9 v2.7M252.9 350.0 v-2.7M252.9 20.9 v2.7M254.9 350.0 v-2.7M254.9 20.9 v2.7M256.7 350.0 v-2.7M256.7 20.9 v2.7M268.8 350.0 v-2.7M268.8 20.9 v2.7M275.0 350.0 v-2.7M275.0 20.9 v2.7M279.3 350.0 v-2.7M279.3 20.9 v2.7M282.7 350.0 v-2.7M282.7 20.9 v2.7M285.5 350.0 v-2.7M285.5 20.9 v2.7M287.8 350.0 v-2.7M287.8 20.9 v2.7M289.8 350.0 v-2.7M289.8 20.9 v2.7M291.6 350.0 v-2.7M291.6 20.9 v2.7M303.7 350.0 v-2.7M303.7 20.9 v2.7M309.9 350.0 v-2.7M309.9 20.9 v2.7M314.2 350.0 v-2.7M314.2 20.9 v2.7M317.6 350.0 v-2.7M317.6 20.9 v2.7M320.4 350.0 v-2.7M320.4 20.9 v2.7M322.7 350.0 v-2.7M322.7 20.9 v2.7M324.7 350.0 v-2.7M324.7 20.9 v2.7M326.5 350.0 v-2.7M326.5 20.9 v2.7M338.6 350.0 v-2.7M338.6 20.9 v2.7M344.8 350.0 v-2.7M344.8 20.9 v2.7M349.1 350.0 v-2.7M349.1 20.9 v2.7M352.5 350.0 v-2.7M352.5 20.9 v2.7M355.3 350.0 v-2.7M355.3 20.9 v2.7M357.6 350.0 v-2.7M357.6 20.9 v2.7M359.6 350.0 v-2.7M359.6 20.9 v2.7M361.4 350.0 v-2.7M361.4 20.9 v2.7M373.5 350.0 v-2.7M373.5 20.9 v2.7M379.7 350.0 v-2.7M379.7 20.9 v2.7M384.0 350.0 v-2.7M384.0 20.9 v2.7M387.4 350.0 v-2.7M387.4 20.9 v2.7M390.2 350.0 v-2.7M390.2 20.9 v2.7M392.5 350.0 v-2.7M392.5 20.9 v2.7M394.5 350.0 v-2.7M394.5 20.9 v2.7M396.3 350.0 v-2.7M396.3 20.9 v2.7M408.4 350.0 v-2.7M408.4 20.9 v2.7M414.6 350.0 v-2.7M414.6 20.9 v2.7M418.9 350.0 v-2.7M418.9 20.9 v2.7M422.3 350.0 v-2.7M422.3 20.9 v2.7M425.1 350.0 v-2.7M425.1 20.9 v2.7M427.4 350.0 v-2.7M427.4 20.9 v2.7M429.4 350.0 v-2.7M429.4 20.9 v2.7M431.2 350.0 v-2.7M431.2 20.9 v2.7M443.3 350.0 v-2.7M443.3 20.9 v2.7M449.5 350.0 v-2.7M449.5 20.9 v2.7M453.8 350.0 v-2.7M453.8 20.9 v2.7M457.2 350.0 v-2.7M457.2 20.9 v2.7M460.0 350.0 v-2.7M460.0 20.9 v2.7M462.3 350.0 v-2.7M462.3 20.9 v2.7M464.3 350.0 v-2.7M464.3 20.9 v2.7M466.1 350.0 v-2.7M466.1 20.9 v2.7M478.2 350.0 v-2.7M478.2 20.9 v2.7M484.4 350.0 v-2.7M484.4 20.9 v2.7M488.7 350.0 v-2.7M488.7 20.9 v2.7M492.1 350.0 v-2.7M492.1 20.9 v2.7M494.9 350.0 v-2.7M494.9 20.9 v2.7M497.2 350.0 v-2.7M497.2 20.9 v2.7M499.2 350.0 v-2.7M499.2 20.9 v2.7M501.0 350.0 v-2.7M501.0 20.9 v2.7M513.1 350.0 v-2.7M513.1 20.9 v2.7M519.3 350.0 v-2.7M519.3 20.9 v2.7M523.6 350.0 v-2.7M523.6 20.9 v2.7M527.0 350.0 v-2.7M527.0 20.9 v2.7M529.8 350.0 v-2.7M529.8 20.9 v2.7M532.1 350.0 v-2.7M532.1 20.9 v2.7M534.1 350.0 v-2.7M534.1 20.9 v2.7M535.9 350.0 v-2.7M535.9 20.9 v2.7M548.0 350.0 v-2.7M548.0 20.9 v2.7M554.2 350.0 v-2.7M554.2 20.9 v2.7M558.5 350.0 v-2.7M558.5 20.9 v2.7M561.9 350.0 v-2.7M561.9 20.9 v2.7M564.7 350.0 v-2.7M564.7 20.9 v2.7M567.0 350.0 v-2.7M567.0 20.9 v2.7M569.0 350.0 v-2.7M569.0 20.9 v2.7M570.8 350.0 v-2.7M570.8 20.9 v2.7M582.9 350.0 v-2.7M582.9 20.9 v2.7M589.1 350.0 v-2.7M589.1 20.9 v2.7M593.4 350.0 v-2.7M593.4 20.9 v2.7M596.8 350.0 v-2.7M596.8 20.9 v2.7M599.6 350.0 v-2.7M599.6 20.9 v2.7M601.9 350.0 v-2.7M601.9 20.9 v2.7M603.9 350.0 v-2.7M603.9 20.9 v2.7M605.7 350.0 v-2.7M605.7 20.9 v2.7" stroke-width="1.1"/>
<path d="M73.7 345.0 h7.4M607.3 345.0 h-7.4M73.7 338.9 h7.4M607.3 338.9 h-7.4M73.7 332.8 h7.4M607.3 332.8 h-7.4M73.7 326.6 h7.4M607.3 326.6 h-7.4M73.7 320.5 h7.4M607.3 320.5 h-7.4M73.7 314.4 h7.4M607.3 314.4 h-7.4M73.7 308.3 h7.4M607.3 308.3 h-7.4M73.7 302.1 h7.4M607.3 302.1 h-7.4M73.7 296.0 h7.4M607.3 296.0 h-7.4M73.7 289.9 h7.4M607.3 289.9 h-7.4M73.7 283.8 h7.4M607.3 283.8 h-7.4M73.7 277.7 h7.4M607.3 277.7 h-7.4M73.7 271.5 h7.4M607.3 271.5 h-7.4M73.7 265.4 h7.4M607.3 265.4 h-7.4M73.7 259.3 h7.4M607.3 259.3 h-7.4M73.7 253.2 h7.4M607.3 253.2 h-7.4M73.7 247.1 h7.4M607.3 247.1 h-7.4M73.7 240.9 h7.4M607.3 240.9 h-7.4M73.7 234.8 h7.4M607.3 234.8 h-7.4M73.7 228.7 h7.4M607.3 228.7 h-7.4M73.7 222.6 h7.4M607.3 222.6 h-7.4M73.7 216.5 h7.4M607.3 216.5 h-7.4M73.7 210.3 h7.4M607.3 210.3 h-7.4M73.7 204.2 h7.4M607.3 204.2 h-7.4M73.7 198.1 h7.4M607.3 198.1 h-7.4M73.7 192.0 h7.4M607.3 192.0 h-7.4M73.7 185.8 h7.4M607.3 185.8 h-7.4M73.7 179.7 h7.4M607.3 179.7 h-7.4M73.7 173.6 h7.4M607.3 173.6 h-7.4M73.7 167.5 h7.4M607.3 167.5 h-7.4M73.7 161.4 h7.4M607.3 161.4 h-7.4M73.7 155.2 h7.4M607.3 155.2 h-7.4M73.7 149.1 h7.4M607.3 149.1 h-7.4M73.7 143.0 h7.4M607.3 143.0 h-7.4M73.7 136.9 h7.4M607.3 136.9 h-7.4M73.7 130.8 h7.4M607.3 130.8 h-7.4M73.7 124.6 h7.4M607.3 124.6 h-7.4M73.7 118.5 h7.4M607.3 118.5 h-7.4M73.7 112.4 h7.4M607.3 112.4 h-7.4M73.7 106.3 h7.4M607.3 106.3 h-7.4M73.7 100.2 h7.4M607.3 100.2 h-7.4M73.7 94.0 h7.4M607.3 94.0 h-7.4M73.7 87.9 h7.4M607.3 87.9 h-7.4M73.7 81.8 h7.4M607.3 81.8 h-7.4M73.7 75.7 h7.4M607.3 75.7 h-7.4M73.7 69.5 h7.4M607.3 69.5 h-7.4M73.7 63.4 h7.4M607.3 63.4 h-7.4M73.7 57.3 h7.4M607.3 57.3 h-7.4M73.7 51.2 h7.4M607.3 51.2 h-7.4M73.7 45.1 h7.4M607.3 45.1 h-7.4M73.7 38.9 h7.4M607.3 38.9 h-7.4M73.7 32.8 h7.4M607.3 32.8 h-7.4M73.7 26.7 h7.4M607.3 26.7 h-7.4" stroke-width="1.3"/>
</g>
<g font-family="Liberation Serif, serif" font-size="19px" fill="#000">
<text x="70.8" y="355.4" text-anchor="end"><tspan letter-spacing="-1.2">1</tspan>0<tspan font-size="14.2px" dy="-5.6" letter-spacing="0.5">−</tspan><tspan font-size="14.2px" dy="-0.7">24</tspan></text>
<text x="70.8" y="330.9" text-anchor="end"><tspan letter-spacing="-1.2">1</tspan>0<tspan font-size="14.2px" dy="-5.6" letter-spacing="0.5">−</tspan><tspan font-size="14.2px" dy="-0.7">20</tspan></text>
<text x="70.8" y="306.4" text-anchor="end"><tspan letter-spacing="-1.2">1</tspan>0<tspan font-size="14.2px" dy="-5.6" letter-spacing="0.5">−</tspan><tspan font-size="14.2px" dy="-0.7">16</tspan></text>
<text x="70.8" y="281.9" text-anchor="end"><tspan letter-spacing="-1.2">1</tspan>0<tspan font-size="14.2px" dy="-5.6" letter-spacing="0.5">−</tspan><tspan font-size="14.2px" dy="-0.7">12</tspan></text>
<text x="70.8" y="257.5" text-anchor="end"><tspan letter-spacing="-1.2">1</tspan>0<tspan font-size="14.2px" dy="-5.6" letter-spacing="0.5">−</tspan><tspan font-size="14.2px" dy="-0.7">8</tspan></text>
<text x="70.8" y="233.0" text-anchor="end"><tspan letter-spacing="-1.2">1</tspan>0<tspan font-size="14.2px" dy="-5.6" letter-spacing="0.5">−</tspan><tspan font-size="14.2px" dy="-0.7">4</tspan></text>
<text x="70.8" y="208.5" text-anchor="end">1</text>
<text x="70.8" y="184.0" text-anchor="end"><tspan letter-spacing="-1.2">1</tspan>0<tspan font-size="14.2px" dy="-6.3">4</tspan></text>
<text x="70.8" y="159.5" text-anchor="end"><tspan letter-spacing="-1.2">1</tspan>0<tspan font-size="14.2px" dy="-6.3">8</tspan></text>
<text x="70.8" y="135.0" text-anchor="end"><tspan letter-spacing="-1.2">1</tspan>0<tspan font-size="14.2px" dy="-6.3">12</tspan></text>
<text x="70.8" y="110.6" text-anchor="end"><tspan letter-spacing="-1.2">1</tspan>0<tspan font-size="14.2px" dy="-6.3">16</tspan></text>
<text x="70.8" y="86.1" text-anchor="end"><tspan letter-spacing="-1.2">1</tspan>0<tspan font-size="14.2px" dy="-6.3">20</tspan></text>
<text x="70.8" y="61.6" text-anchor="end"><tspan letter-spacing="-1.2">1</tspan>0<tspan font-size="14.2px" dy="-6.3">24</tspan></text>
<text x="70.8" y="37.1" text-anchor="end"><tspan letter-spacing="-1.2">1</tspan>0<tspan font-size="14.2px" dy="-6.3">28</tspan></text>
<text x="119.3" y="369.5" text-anchor="middle"><tspan letter-spacing="-1.2">1</tspan>0<tspan font-size="14.2px" dy="-6.2" letter-spacing="0.5">−</tspan><tspan font-size="14.2px" dy="-0.7">20</tspan></text>
<text x="189.1" y="369.5" text-anchor="middle"><tspan letter-spacing="-1.2">1</tspan>0<tspan font-size="14.2px" dy="-6.2" letter-spacing="0.5">−</tspan><tspan font-size="14.2px" dy="-0.7">18</tspan></text>
<text x="258.9" y="369.5" text-anchor="middle"><tspan letter-spacing="-1.2">1</tspan>0<tspan font-size="14.2px" dy="-6.2" letter-spacing="0.5">−</tspan><tspan font-size="14.2px" dy="-0.7">16</tspan></text>
<text x="328.7" y="369.5" text-anchor="middle"><tspan letter-spacing="-1.2">1</tspan>0<tspan font-size="14.2px" dy="-6.2" letter-spacing="0.5">−</tspan><tspan font-size="14.2px" dy="-0.7">14</tspan></text>
<text x="398.5" y="369.5" text-anchor="middle"><tspan letter-spacing="-1.2">1</tspan>0<tspan font-size="14.2px" dy="-6.2" letter-spacing="0.5">−</tspan><tspan font-size="14.2px" dy="-0.7">12</tspan></text>
<text x="468.3" y="369.5" text-anchor="middle"><tspan letter-spacing="-1.2">1</tspan>0<tspan font-size="14.2px" dy="-6.2" letter-spacing="0.5">−</tspan><tspan font-size="14.2px" dy="-0.7">10</tspan></text>
<text x="538.1" y="369.5" text-anchor="middle"><tspan letter-spacing="-1.2">1</tspan>0<tspan font-size="14.2px" dy="-6.2" letter-spacing="0.5">−</tspan><tspan font-size="14.2px" dy="-0.7">8</tspan></text>
<text x="607.9" y="369.5" text-anchor="middle"><tspan letter-spacing="-1.2">1</tspan>0<tspan font-size="14.2px" dy="-6.2" letter-spacing="0.5">−</tspan><tspan font-size="14.2px" dy="-0.7">6</tspan></text>
<text x="310.5" y="395.6"><tspan font-style="italic">m</tspan><tspan font-style="italic" font-size="13.5px" dy="3.5">ϕ</tspan><tspan dy="-3.5"> [eV]</tspan></text>
<g transform="translate(18.3 198.6) rotate(-90)"><text font-style="italic">d</text><text x="9.8" y="-8.9" font-size="12.6px">(2)</text><text x="8.6" y="4.5" font-size="13.5px" font-style="italic">m</text><text x="18" y="6.3" font-size="9.6px" font-style="italic">q</text></g>
</g>
<g font-family="Liberation Serif, serif" font-size="13.3px" fill="#000">
<rect x="509.1" y="227.7" width="6.6" height="6.3" fill="#45169a"/>
<text x="522.60" y="233.8" font-size="13.0px" font-style="italic">ρ</text>
<text x="529.00" y="237.6" font-size="9.2px">DM</text>
<circle cx="532.2" cy="227.3" r="2.3" fill="none" stroke="#000" stroke-width="0.55"/><circle cx="532.2" cy="227.3" r="0.65"/>
<rect x="509.1" y="250.7" width="6.6" height="6.3" fill="#3b57cf"/>
<text x="523.2" y="256.8"><tspan letter-spacing="-1.2">1</tspan>0</text>
<text x="534.3" y="251.8" font-size="8.7px">7</text>
<text x="539.50" y="256.8" font-size="13.0px" font-style="italic">ρ</text>
<text x="545.70" y="260.6" font-size="9.2px">DM</text>
<circle cx="548.9" cy="250.3" r="2.3" fill="none" stroke="#000" stroke-width="0.55"/><circle cx="548.9" cy="250.3" r="0.65"/>
<rect x="509.1" y="273.7" width="6.6" height="6.3" fill="#46a4ef"/>
<text x="523.2" y="279.8"><tspan letter-spacing="-1.2">1</tspan>0</text>
<text x="534.3" y="274.8" font-size="8.7px">12</text>
<text x="543.85" y="279.8" font-size="13.0px" font-style="italic">ρ</text>
<text x="550.05" y="283.6" font-size="9.2px">DM</text>
<circle cx="553.3" cy="273.3" r="2.3" fill="none" stroke="#000" stroke-width="0.55"/><circle cx="553.3" cy="273.3" r="0.65"/>
<rect x="509.1" y="296.7" width="6.6" height="6.3" fill="#abd9f9"/>
<text x="523.2" y="302.8"><tspan letter-spacing="-1.2">1</tspan>0</text>
<text x="534.3" y="297.8" font-size="8.7px">18</text>
<text x="543.85" y="302.8" font-size="13.0px" font-style="italic">ρ</text>
<text x="550.05" y="306.6" font-size="9.2px">DM</text>
<circle cx="553.3" cy="296.3" r="2.3" fill="none" stroke="#000" stroke-width="0.55"/><circle cx="553.3" cy="296.3" r="0.65"/>
</g>
</svg>
</body></html>
